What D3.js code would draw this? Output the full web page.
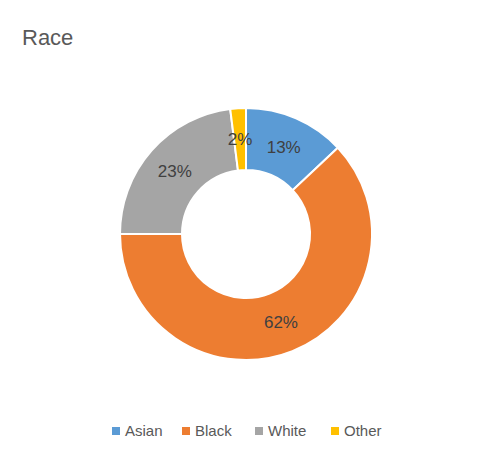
<!DOCTYPE html>
<html><head><meta charset="utf-8">
<script src="https://cdn.jsdelivr.net/npm/d3@7"></script>
<style>body{margin:0;background:#fff;font-family:"Liberation Sans",Arial,sans-serif}</style>
</head><body>
<svg id="chart" width="492" height="466"></svg>
<script>
"use strict";

var categories = ["Asian", "Black", "White", "Other"];
var values = [13, 62, 23, 2];
var colors = ["#5B9BD5", "#ED7D31", "#A5A5A5", "#FFC000"];

var svg = d3.select("#chart");
var cx = 246, cy = 234, outer = 126, inner = 64;

svg.append("text").attr("x", 22).attr("y", 45)
  .attr("font-size", 22).attr("fill", "#595959").text("Race");

var pie = d3.pie().sort(null).value(function (d) { return d; });
var arc = d3.arc().innerRadius(inner).outerRadius(outer);
var labelArc = d3.arc().innerRadius(95).outerRadius(95);
var arcs = pie(values);

var g = svg.append("g").attr("transform", "translate(" + cx + "," + cy + ")");
g.selectAll("path").data(arcs).enter().append("path")
  .attr("d", arc)
  .attr("fill", function (d, i) { return colors[i]; })
  .attr("stroke", "#fff").attr("stroke-width", 2);

g.selectAll("text").data(arcs).enter().append("text")
  .attr("transform", function (d) { return "translate(" + labelArc.centroid(d) + ")"; })
  .attr("text-anchor", "middle").attr("dy", "0.35em")
  .attr("font-size", 17).attr("fill", "#404040")
  .text(function (d) { return d.data + "%"; });

var legendX = [112, 182, 255, 331];
var legend = svg.selectAll(".leg").data(categories).enter().append("g")
  .attr("transform", function (d, i) { return "translate(" + legendX[i] + ",431)"; });
legend.append("rect").attr("x", 0).attr("y", -4).attr("width", 8).attr("height", 8)
  .attr("fill", function (d, i) { return colors[i]; });
legend.append("text").attr("x", 13).attr("dy", "0.35em")
  .attr("font-size", 15).attr("fill", "#595959")
  .text(function (d) { return d; });
</script>
</body></html>
